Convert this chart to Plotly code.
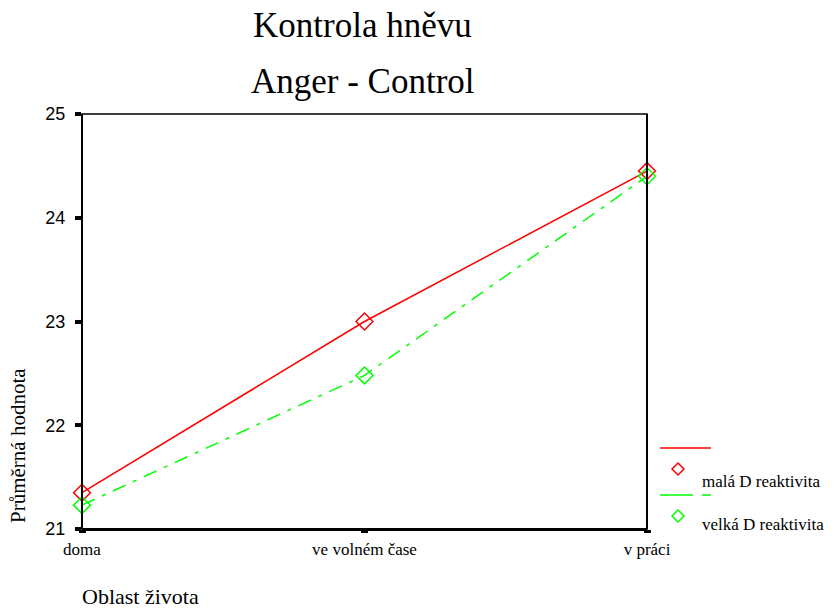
import plotly.graph_objects as go

categories = ["doma", "ve volném čase", "v práci"]
mala_values = [21.35, 23.0, 24.45]
velka_values = [21.23, 22.48, 24.40]
series_names = ["malá D reaktivita", "velká D reaktivita"]
y_ticks = [21, 22, 23, 24, 25]

W, H = 834, 611
L, R, T, B = 82, 647, 114, 529
RED = "#ff0000"
GREEN = "#00ff00"
SERIF = "Liberation Serif, Times New Roman, serif"
SANS = "Liberation Sans, Arial, sans-serif"

def px(x):
    return (x - L) / (R - L)

def py(y):
    return (B - y) / (B - T)

fig = go.Figure()
fig.add_trace(go.Scatter(
    x=categories, y=mala_values, mode="lines+markers", name=series_names[0],
    line=dict(color=RED, width=1.5),
    marker=dict(symbol="diamond-open", size=13, line=dict(color=RED, width=1.5), color=RED),
    cliponaxis=False, showlegend=False))
fig.add_trace(go.Scatter(
    x=categories, y=velka_values, mode="lines+markers", name=series_names[1],
    line=dict(color=GREEN, width=1.5, dash="14px,8px,4px,8px"),
    marker=dict(symbol="diamond-open", size=13, line=dict(color=GREEN, width=1.5), color=GREEN),
    cliponaxis=False, showlegend=False))

shapes = []
# frame
shapes.append(dict(type="rect", xref="paper", yref="paper", x0=0, y0=0, x1=1, y1=1,
                   line=dict(color="black", width=1.5), layer="below"))
shapes.append(dict(type="line", xref="paper", yref="paper", x0=0, y0=py(529.5), x1=1, y1=py(529.5),
                   line=dict(color="black", width=3)))
shapes.append(dict(type="line", xref="paper", yref="paper", x0=0, y0=0, x1=0, y1=1,
                   line=dict(color="black", width=2)))
shapes.append(dict(type="line", xref="paper", yref="paper", x0=1, y0=0, x1=1, y1=1,
                   line=dict(color="black", width=2)))

# manual legend
def diamond(cx, cy, r, color):
    p = f"M {px(cx)},{py(cy - r)} L {px(cx + r)},{py(cy)} L {px(cx)},{py(cy + r)} L {px(cx - r)},{py(cy)} Z"
    return dict(type="path", xref="paper", yref="paper", path=p, line=dict(color=color, width=1.5))

shapes.append(dict(type="line", xref="paper", yref="paper", x0=px(660), y0=py(448), x1=px(711), y1=py(448),
                   line=dict(color=RED, width=1.5)))
shapes.append(diamond(678, 469, 6, RED))
shapes.append(dict(type="line", xref="paper", yref="paper", x0=px(660), y0=py(495), x1=px(693), y1=py(495),
                   line=dict(color=GREEN, width=1.5)))
shapes.append(dict(type="line", xref="paper", yref="paper", x0=px(702), y0=py(495), x1=px(711), y1=py(495),
                   line=dict(color=GREEN, width=1.5)))
shapes.append(diamond(678, 516, 6, GREEN))

annotations = []
annotations.append(dict(text=series_names[0], x=px(700), y=py(481), xref="paper", yref="paper",
                        xanchor="left", yanchor="middle", showarrow=False,
                        font=dict(family=SERIF, size=17, color="black")))
annotations.append(dict(text=series_names[1], x=px(700), y=py(524), xref="paper", yref="paper",
                        xanchor="left", yanchor="middle", showarrow=False,
                        font=dict(family=SERIF, size=17, color="black")))
# titles
annotations.append(dict(text="Kontrola hněvu", x=px(362), y=py(25), xref="paper", yref="paper",
                        xanchor="center", yanchor="middle", showarrow=False,
                        font=dict(family=SERIF, size=35, color="black")))
annotations.append(dict(text="Anger - Control", x=px(363), y=py(81), xref="paper", yref="paper",
                        xanchor="center", yanchor="middle", showarrow=False,
                        font=dict(family=SERIF, size=35, color="black")))
# axis titles
annotations.append(dict(text="Průměrná hodnota", x=px(18), y=py(446), xref="paper", yref="paper",
                        xanchor="center", yanchor="middle", showarrow=False, textangle=-90,
                        font=dict(family=SERIF, size=21, color="black")))
annotations.append(dict(text="Oblast života", x=px(80), y=py(596), xref="paper", yref="paper",
                        xanchor="left", yanchor="middle", showarrow=False,
                        font=dict(family=SERIF, size=22, color="black")))

fig.update_layout(
    width=W, height=H,
    margin=dict(l=L, r=W - R, t=T, b=H - B, pad=0),
    paper_bgcolor="white", plot_bgcolor="white",
    xaxis=dict(type="category", categoryarray=categories, range=[0, 2], showgrid=False,
               zeroline=False, showline=False, ticks="outside", ticklen=3, tickwidth=7,
               tickcolor="black", ticklabelstandoff=2,
               tickfont=dict(family=SERIF, size=17, color="black")),
    yaxis=dict(range=[21, 25], tickvals=y_ticks, ticktext=[str(v) for v in y_ticks],
               showgrid=False, zeroline=False, showline=False, ticks="outside",
               ticklen=6, tickwidth=4, tickcolor="black", ticklabelstandoff=6,
               tickfont=dict(family=SANS, size=18, color="black")),
    shapes=shapes, annotations=annotations, showlegend=False,
)

fig.write_html("out.html", config={"displayModeBar": False},
               post_script="document.body.style.margin='0';document.body.style.overflow='hidden';")
